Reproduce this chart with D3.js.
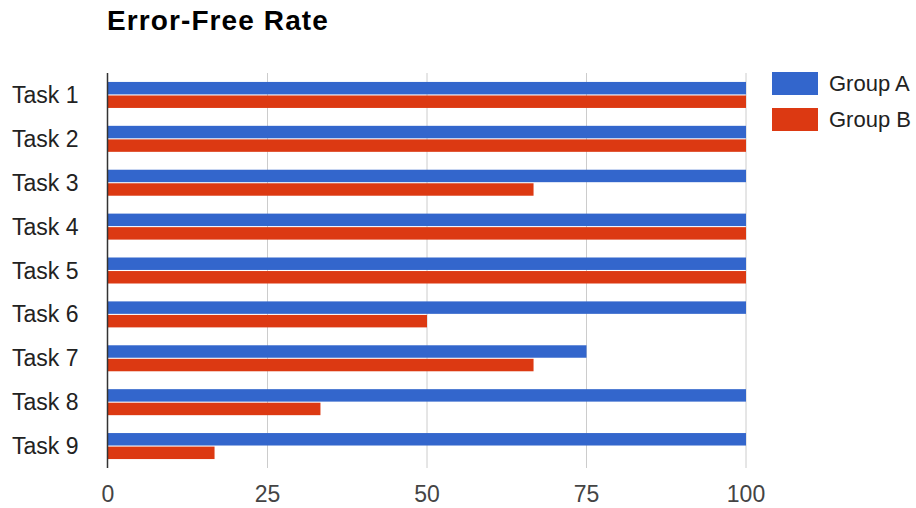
<!doctype html>
<html lang="en">
<head>
  <meta charset="utf-8">
  <title>Error-Free Rate</title>
  <script src="https://d3js.org/d3.v7.min.js"></script>
  <style>
    body { margin: 0; background: #fff; }
    text { font-family: "Liberation Sans", Arial, sans-serif; }
  </style>
</head>
<body>
  <div id="chart"></div>
  <script>
    const tasks = ["Task 1", "Task 2", "Task 3", "Task 4", "Task 5", "Task 6", "Task 7", "Task 8", "Task 9"];
    const groupA = [100, 100, 100, 100, 100, 100, 75, 100, 100];
    const groupB = [100, 100, 66.7, 100, 100, 50, 66.7, 33.3, 16.7];
    const seriesNames = ["Group A", "Group B"];
    const seriesColors = ["#3366cc", "#dc3912"];
    const xTicks = [0, 25, 50, 75, 100];

    const width = 916, height = 508;
    const plotLeft = 108, plotRight = 746, plotTop = 73, plotBottom = 468;

    const svg = d3.select("#chart").append("svg")
      .attr("width", width)
      .attr("height", height);

    const x = d3.scaleLinear().domain([0, 100]).range([plotLeft, plotRight]);
    const y = d3.scaleBand().domain(tasks).range([plotTop, plotBottom]);
    const inner = d3.scaleBand().domain(seriesNames)
      .range([y.bandwidth() / 2 - 13, y.bandwidth() / 2 + 13])
      .paddingInner(0.08);

    // title
    svg.append("text")
      .attr("x", 107)
      .attr("y", 30)
      .attr("font-size", 28)
      .attr("font-weight", "bold")
      .attr("letter-spacing", 1.1)
      .attr("fill", "#000")
      .text("Error-Free Rate");

    // gridlines
    svg.append("g").selectAll("line")
      .data(xTicks.filter(d => d > 0))
      .enter().append("line")
      .attr("x1", d => x(d)).attr("x2", d => x(d))
      .attr("y1", plotTop).attr("y2", plotBottom)
      .attr("stroke", "#cccccc")
      .attr("stroke-width", 1);

    // bars
    const data = tasks.map((t, i) => ({ task: t, values: [groupA[i], groupB[i]] }));
    const rows = svg.append("g").selectAll("g")
      .data(data)
      .enter().append("g")
      .attr("transform", d => "translate(0," + y(d.task) + ")");

    rows.selectAll("rect")
      .data(d => d.values.map((v, k) => ({ v: v, k: k })))
      .enter().append("rect")
      .attr("x", x(0))
      .attr("y", d => inner(seriesNames[d.k]))
      .attr("width", d => x(d.v) - x(0))
      .attr("height", inner.bandwidth())
      .attr("fill", d => seriesColors[d.k]);

    // baseline
    svg.append("line")
      .attr("x1", x(0) - 0.5).attr("x2", x(0) - 0.5)
      .attr("y1", plotTop).attr("y2", plotBottom)
      .attr("stroke", "#333333")
      .attr("stroke-width", 1.5);

    // category labels
    svg.append("g").selectAll("text")
      .data(tasks)
      .enter().append("text")
      .attr("x", 12)
      .attr("y", d => y(d) + y.bandwidth() / 2 + 8)
      .attr("font-size", 23)
      .attr("fill", "#222")
      .text(d => d);

    // x tick labels
    svg.append("g").selectAll("text")
      .data(xTicks)
      .enter().append("text")
      .attr("x", d => x(d))
      .attr("y", 502)
      .attr("text-anchor", "middle")
      .attr("font-size", 23)
      .attr("fill", "#444")
      .text(d => d);

    // legend
    const legend = svg.append("g").selectAll("g")
      .data(seriesNames)
      .enter().append("g")
      .attr("transform", (d, i) => "translate(772," + (72 + i * 36) + ")");

    legend.append("rect")
      .attr("width", 46)
      .attr("height", 23)
      .attr("fill", (d, i) => seriesColors[i]);

    legend.append("text")
      .attr("x", 57)
      .attr("y", 19)
      .attr("font-size", 22)
      .attr("fill", "#222")
      .text(d => d);
  </script>
</body>
</html>
